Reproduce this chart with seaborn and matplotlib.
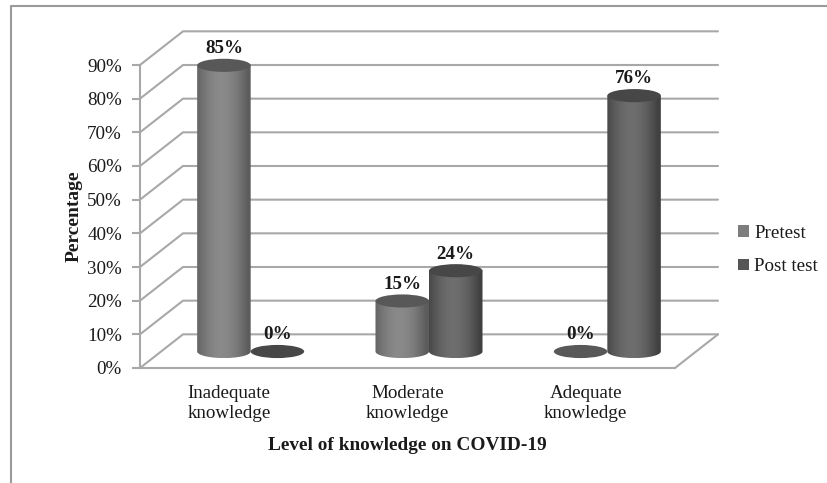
import numpy as np
import pandas as pd
import matplotlib.pyplot as plt
import seaborn as sns
from matplotlib.colors import to_rgb
from matplotlib.lines import Line2D
from matplotlib.patches import Ellipse, PathPatch, Patch
from matplotlib.path import Path

categories = ['Inadequate\nknowledge', 'Moderate\nknowledge', 'Adequate\nknowledge']
pretest = [85, 15, 0]
post_test = [0, 24, 76]
y_levels = [0, 10, 20, 30, 40, 50, 60, 70, 80, 90]
x_title = 'Level of knowledge on COVID-19'
y_title = 'Percentage'

W, H = 828, 483
grid_col = '#a8a8a8'
text_col = '#1a1a1a'
series_cols = {'Pretest': '#7d7d7d', 'Post test': '#555555'}
# edge, centre of the cylinder shading and colour of the lid
shades = {'Pretest': ('#5c5c5c', '#8a8a8a', '#585858'), 'Post test': ('#404040', '#6e6e6e', '#474747')}

sns.set_theme(style='white')
plt.rcParams['font.family'] = ['Liberation Serif', 'DejaVu Serif']


def px_axes(fig, left, right, top, bottom):
    return fig.add_axes([left / W, 1 - bottom / H, (right - left) / W, (bottom - top) / H])


fig = plt.figure(figsize=(W / 100, H / 100), dpi=100)

# outer picture border, only top and left are visible
fig.add_artist(Line2D([11 / W, 11 / W, 1], [0, 1 - 6 / H, 1 - 6 / H], color='#9a9a9a', lw=1.5))

# front plane holds the real axis, ticks and labels
ax_front = px_axes(fig, 140, 675, 65, 368)
ax_front.set_xlim(-0.5, 2.5)
ax_front.set_ylim(0, 90)
ax_front.set_yticks(y_levels)
ax_front.set_yticklabels([f'{v}%' for v in y_levels], fontsize=13.7, color=text_col)
ax_front.set_xticks(range(3))
ax_front.set_xticklabels(categories, fontsize=13.7, color=text_col, linespacing=1.22)
ax_front.tick_params(axis='y', left=True, length=6, width=1.5, color=grid_col, pad=7)
ax_front.tick_params(axis='x', bottom=False, pad=6)
ax_front.patch.set_alpha(0)
for side in ['top', 'right']:
    ax_front.spines[side].set_visible(False)
for side in ['left', 'bottom']:
    ax_front.spines[side].set_color(grid_col)
    ax_front.spines[side].set_linewidth(1.5)
ax_front.set_xlabel(x_title, fontsize=13.9, fontweight='bold', color=text_col, labelpad=11)
ax_front.set_ylabel(y_title, fontsize=14, fontweight='bold', color=text_col, labelpad=3.5)

# depth of the fake 3d box, one gridline up and 43 px to the right
depth_x = 43 / (535 / 3)
depth_y = 10
for v in y_levels:
    ax_front.plot([-0.5, -0.5 + depth_x, 2.5 + depth_x], [v, v + depth_y, v + depth_y],
                  color=grid_col, lw=1.5, clip_on=False, solid_joinstyle='miter')
ax_front.plot([2.5, 2.5 + depth_x], [0, depth_y], color=grid_col, lw=1.5, clip_on=False)

# bars stand half way into the box
ax_bars = px_axes(fig, 161.5, 696.5, 48.5, 351.5)
df = pd.DataFrame({
    'category': categories * 2,
    'value': pretest + post_test,
    'series': ['Pretest'] * 3 + ['Post test'] * 3,
})
sns.barplot(data=df, x='category', y='value', hue='series', palette=series_cols, width=0.6,
            gap=0, ax=ax_bars, legend=False, errorbar=None)
ax_bars.axis('off')

lid = 1.95  # half height of the ellipses, in percent units
angles = np.linspace(np.pi, 2 * np.pi, 40)
order = []
for name, container in zip(['Pretest', 'Post test'], ax_bars.containers):
    for bar in container:
        order.append((name, bar))
# left bar first so the right one overlaps it
order.sort(key=lambda item: item[1].get_x())
for name, bar in order:
    x0, w, h = bar.get_x(), bar.get_width(), bar.get_height()
    cx = x0 + w / 2
    edge, mid, top = shades[name]
    bar.set_visible(False)
    if h > 0:
        xs = cx + w / 2 * np.cos(angles)
        ys = lid * np.sin(angles)
        verts = list(zip(xs, ys)) + [(x0 + w, h), (x0, h), (xs[0], ys[0])]
        outline = PathPatch(Path(verts), transform=ax_bars.transData, fc='none', ec='none')
        ax_bars.add_patch(outline)
        c0 = np.array(to_rgb(edge))
        c1 = np.array(to_rgb(mid))
        t = 1 - np.abs(np.linspace(-1, 1, 64) + 0.1) ** 1.8
        t = np.clip(t, 0, 1)
        shade = (c0[None, :] + (c1 - c0)[None, :] * t[:, None])[None, :, :]
        img = ax_bars.imshow(shade, extent=(x0, x0 + w, -lid, h), aspect='auto', origin='lower',
                             interpolation='bilinear', zorder=2 + x0 / 10)
        img.set_clip_box(fig.bbox)
        img.set_clip_path(outline)
    ax_bars.add_patch(Ellipse((cx, h), w, 2 * lid, fc=top, ec='none', clip_on=False, zorder=2.05 + x0 / 10))
    ax_bars.annotate(f'{h:.0f}%', (cx, h), xytext=(0, 12), textcoords='offset points', ha='center',
                     va='center', fontsize=13.7, fontweight='bold', color=text_col, annotation_clip=False,
                     zorder=5)
ax_bars.set_xlim(-0.5, 2.5)
ax_bars.set_ylim(0, 90)

handles = [Patch(fc=series_cols[n], ec='none', label=n) for n in ['Pretest', 'Post test']]
fig.legend(handles=handles, loc='center left', bbox_to_anchor=(721 / W, 1 - 250 / H), frameon=False,
           fontsize=13.7, handlelength=0.55, handleheight=0.55, handletextpad=0.3, labelspacing=0.88,
           labelcolor=text_col)

fig.savefig('out.png', dpi=100)
